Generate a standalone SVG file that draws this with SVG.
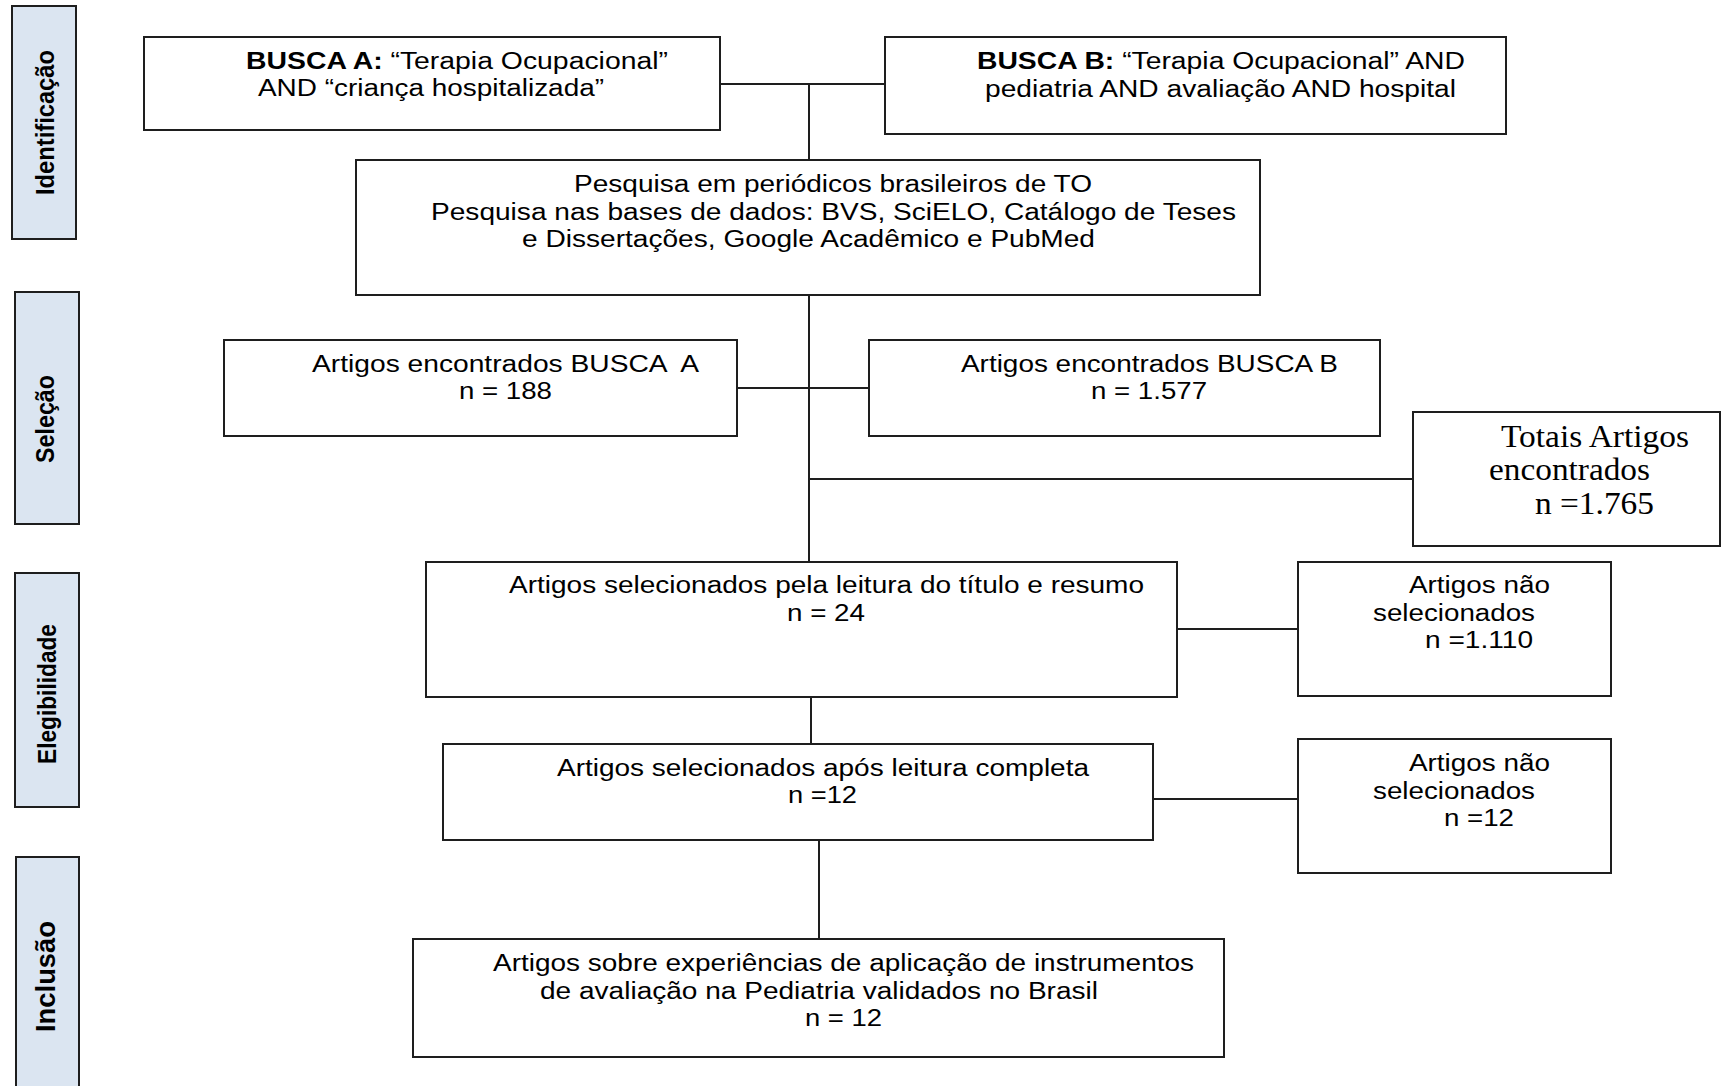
<svg xmlns="http://www.w3.org/2000/svg" width="1722" height="1086" viewBox="0 0 1722 1086">
<style>
.bg{fill:#ffffff}
.box{fill:#ffffff;stroke:#1e1e1e;stroke-width:2}
.side{fill:#dbe5f1;stroke:#1e1e1e;stroke-width:2}
.t{font-family:"Liberation Sans",Arial,sans-serif;font-size:23px;fill:#000}
.b{font-weight:bold}
.tt{font-family:"Liberation Serif","Times New Roman",serif;font-size:32px;fill:#000}
.lab{font-family:"Liberation Sans",Arial,sans-serif;font-weight:bold;fill:#000}
.con{fill:none;stroke:#1e1e1e;stroke-width:2}
</style>
<rect class="bg" x="0" y="0" width="1722" height="1086"/>

<g id="connectors">
<path class="con" d="M720,84 H885"/>
<path class="con" d="M809,84 V160"/>
<path class="con" d="M809,295 V562"/>
<path class="con" d="M737,388 H869"/>
<path class="con" d="M809,479 H1413"/>
<path class="con" d="M1177,629 H1298"/>
<path class="con" d="M811,697 V744"/>
<path class="con" d="M1153,799 H1298"/>
<path class="con" d="M819,840 V939"/>
</g>

<g id="label-identificacao">
<rect class="side" x="12" y="6" width="64" height="233"/>
<text class="lab" font-size="26" transform="translate(54,195) rotate(-90)" textLength="145" lengthAdjust="spacingAndGlyphs">Identificação</text>
</g>
<g id="label-selecao">
<rect class="side" x="15" y="292" width="64" height="232"/>
<text class="lab" font-size="26" transform="translate(54,463) rotate(-90)" textLength="88" lengthAdjust="spacingAndGlyphs">Seleção</text>
</g>
<g id="label-elegibilidade">
<rect class="side" x="15" y="573" width="64" height="234"/>
<text class="lab" font-size="25" transform="translate(56,764) rotate(-90)" textLength="140" lengthAdjust="spacingAndGlyphs">Elegibilidade</text>
</g>
<g id="label-inclusao">
<rect class="side" x="16" y="857" width="63" height="240"/>
<text class="lab" font-size="27" transform="translate(55,1032) rotate(-90)" textLength="111" lengthAdjust="spacingAndGlyphs">Inclusão</text>
</g>

<g id="busca-a">
<rect class="box" x="144" y="37" width="576" height="93"/>
<text class="t" x="246" y="69" textLength="422" lengthAdjust="spacingAndGlyphs"><tspan class="b">BUSCA A:</tspan> “Terapia Ocupacional”</text>
<text class="t" x="258" y="96" textLength="346" lengthAdjust="spacingAndGlyphs">AND “criança hospitalizada”</text>
</g>

<g id="busca-b">
<rect class="box" x="885" y="37" width="621" height="97"/>
<text class="t" x="977" y="69" textLength="488" lengthAdjust="spacingAndGlyphs"><tspan class="b">BUSCA B:</tspan> “Terapia Ocupacional” AND</text>
<text class="t" x="985" y="97" textLength="471" lengthAdjust="spacingAndGlyphs">pediatria AND avaliação AND hospital</text>
</g>

<g id="pesquisa">
<rect class="box" x="356" y="160" width="904" height="135"/>
<text class="t" x="574" y="192" textLength="518" lengthAdjust="spacingAndGlyphs">Pesquisa em periódicos brasileiros de TO</text>
<text class="t" x="431" y="219.5" textLength="805" lengthAdjust="spacingAndGlyphs">Pesquisa nas bases de dados: BVS, SciELO, Catálogo de Teses</text>
<text class="t" x="522" y="247" textLength="573" lengthAdjust="spacingAndGlyphs">e Dissertações, Google Acadêmico e PubMed</text>
</g>

<g id="encontrados-a">
<rect class="box" x="224" y="340" width="513" height="96"/>
<text class="t" x="312" y="372" textLength="387" lengthAdjust="spacingAndGlyphs" xml:space="preserve">Artigos encontrados BUSCA  A</text>
<text class="t" x="459" y="399" textLength="93" lengthAdjust="spacingAndGlyphs">n = 188</text>
</g>

<g id="encontrados-b">
<rect class="box" x="869" y="340" width="511" height="96"/>
<text class="t" x="961" y="372" textLength="377" lengthAdjust="spacingAndGlyphs">Artigos encontrados BUSCA B</text>
<text class="t" x="1091" y="399" textLength="116" lengthAdjust="spacingAndGlyphs">n = 1.577</text>
</g>

<g id="totais">
<rect class="box" x="1413" y="412" width="307" height="134"/>
<text class="tt" x="1501" y="447" textLength="188" lengthAdjust="spacingAndGlyphs">Totais Artigos</text>
<text class="tt" x="1489" y="480" textLength="161" lengthAdjust="spacingAndGlyphs">encontrados</text>
<text class="tt" x="1535" y="514" textLength="119" lengthAdjust="spacingAndGlyphs">n =1.765</text>
</g>

<g id="selecionados-titulo">
<rect class="box" x="426" y="562" width="751" height="135"/>
<text class="t" x="509" y="593" textLength="635" lengthAdjust="spacingAndGlyphs">Artigos selecionados pela leitura do título e resumo</text>
<text class="t" x="787" y="620.5" textLength="78" lengthAdjust="spacingAndGlyphs">n = 24</text>
</g>

<g id="nao-selecionados-1">
<rect class="box" x="1298" y="562" width="313" height="134"/>
<text class="t" x="1409" y="593" textLength="141" lengthAdjust="spacingAndGlyphs">Artigos não</text>
<text class="t" x="1373" y="620.5" textLength="162" lengthAdjust="spacingAndGlyphs">selecionados</text>
<text class="t" x="1425" y="648" textLength="108" lengthAdjust="spacingAndGlyphs">n =1.110</text>
</g>

<g id="selecionados-completa">
<rect class="box" x="443" y="744" width="710" height="96"/>
<text class="t" x="557" y="776" textLength="532" lengthAdjust="spacingAndGlyphs">Artigos selecionados após leitura completa</text>
<text class="t" x="788" y="803" textLength="69" lengthAdjust="spacingAndGlyphs">n =12</text>
</g>

<g id="nao-selecionados-2">
<rect class="box" x="1298" y="739" width="313" height="134"/>
<text class="t" x="1409" y="771" textLength="141" lengthAdjust="spacingAndGlyphs">Artigos não</text>
<text class="t" x="1373" y="798.5" textLength="162" lengthAdjust="spacingAndGlyphs">selecionados</text>
<text class="t" x="1444" y="826" textLength="70" lengthAdjust="spacingAndGlyphs">n =12</text>
</g>

<g id="inclusao-final">
<rect class="box" x="413" y="939" width="811" height="118"/>
<text class="t" x="493" y="971" textLength="701" lengthAdjust="spacingAndGlyphs">Artigos sobre experiências de aplicação de instrumentos</text>
<text class="t" x="540" y="998.5" textLength="558" lengthAdjust="spacingAndGlyphs">de avaliação na Pediatria validados no Brasil</text>
<text class="t" x="805" y="1026" textLength="77" lengthAdjust="spacingAndGlyphs">n = 12</text>
</g>
</svg>
